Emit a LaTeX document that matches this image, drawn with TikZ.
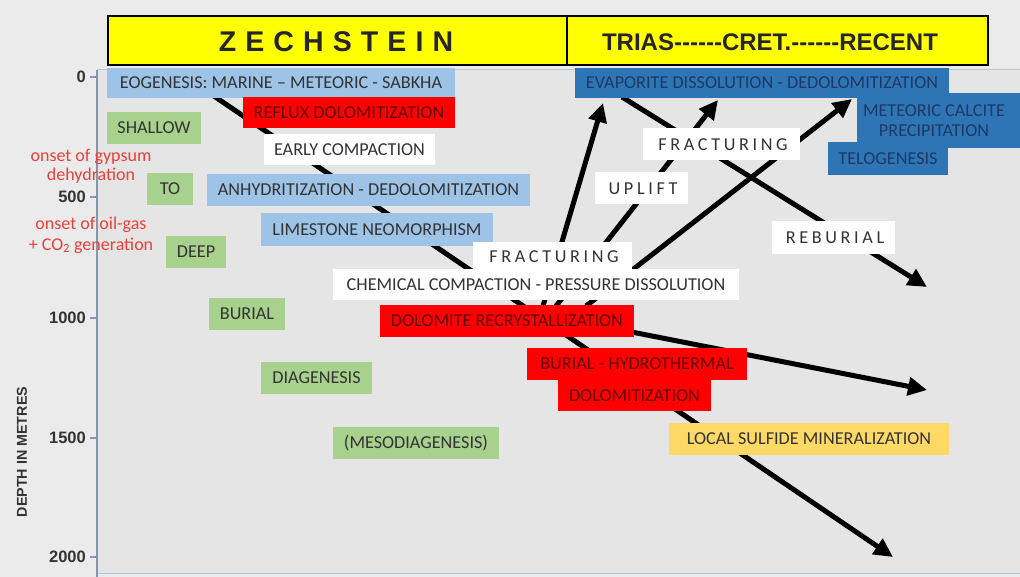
\documentclass[tikz,border=0pt]{standalone}
\usepackage{fontspec}
\setmainfont{Carlito}
\newfontfamily\hdrfont{Liberation Sans}
\newfontfamily\zechfont{Liberation Sans}[LetterSpace=32]
\newfontfamily\spacedfont{Carlito}[LetterSpace=20]
\usetikzlibrary{arrows.meta}
\definecolor{bgout}{HTML}{EBEBEB}
\definecolor{bgin}{HTML}{E5E5E5}
\definecolor{axisblue}{HTML}{B4C7DC}
\definecolor{axisgray}{HTML}{8496B0}
\definecolor{hdryellow}{HTML}{FFFF00}
\definecolor{lblue}{HTML}{9DC3E6}
\definecolor{dblue}{HTML}{2E75B6}
\definecolor{navytxt}{HTML}{1F3864}
\definecolor{lgreen}{HTML}{A9D18E}
\definecolor{boxred}{HTML}{FF0000}
\definecolor{redtxt}{HTML}{5E0606}
\definecolor{sulf}{HTML}{FFD966}
\definecolor{txt}{HTML}{333333}
\definecolor{onset}{HTML}{E8403A}
\newcommand\bxf{\fontsize{18.2}{20}\selectfont}
\begin{document}
\begin{tikzpicture}[x=1pt,y=-1pt,
  bx/.style={inner sep=0pt, font=\bxf, align=center, text=txt},
  lb/.style={bx, fill=lblue},
  db/.style={bx, fill=dblue, text=navytxt},
  gb/.style={bx, fill=lgreen},
  rb/.style={bx, fill=boxred, text=redtxt},
  wb/.style={bx, fill=white},
  sp/.style={inner sep=0pt, font=\spacedfont\fontsize{18.2}{20}\selectfont, text=txt},
  tick/.style={inner sep=0pt, anchor=east, font=\hdrfont\bfseries\fontsize{16.5}{18}\selectfont, text=txt},
  arr/.style={line width=5pt, -{Triangle[length=19pt,width=18pt]}},
  ln/.style={line width=5pt}
]
\useasboundingbox (0,0) rectangle (1020,577);
\fill[bgout] (0,0) rectangle (1020,577);
\fill[bgin] (97,70) rectangle (1020,573);
\draw[axisblue, line width=1pt] (97,70) -- (1020,70);
\draw[axisblue, line width=1pt] (97,573) -- (1020,573);
\draw[axisgray, line width=1.5pt] (97,70) -- (97,577);
\foreach \yy in {77,197,318,438,557} \draw[axisgray, line width=1.2pt] (90,\yy) -- (97,\yy);
\node[tick] (d0) at (86,77) {0};
\node[tick] (d500) at (86,197) {500};
\node[tick] (d1000) at (86,318) {1000};
\node[tick] (d1500) at (86,438) {1500};
\node[tick] (d2000) at (86,557) {2000};
\node[inner sep=0pt, rotate=90, font=\hdrfont\bfseries\fontsize{14.3}{16}\selectfont, text=txt] (ylab) at (22,452) {DEPTH IN METRES};

% header
\node[draw=black, line width=1.5pt, fill=hdryellow, minimum width=459pt, minimum height=49pt, inner sep=0pt] (zh) at (337.5,40.5) {};
\node[draw=black, line width=1.5pt, fill=hdryellow, minimum width=421pt, minimum height=49pt, inner sep=0pt] (th) at (777.5,40.5) {};
\node[inner sep=0pt, font=\zechfont\bfseries\fontsize{28.5}{30}\selectfont, text=black!85] (zt) at (336,42) {ZECHSTEIN};
\node[inner sep=0pt, font=\hdrfont\bfseries\fontsize{24}{26}\selectfont, text=black!85] (tt) at (770,42) {TRIAS------CRET.------RECENT};

% onset texts
\node[inner sep=0pt, font=\fontsize{18}{19.5}\selectfont, text=onset, align=center] (gyp) at (91,166.5) {onset of gypsum\\dehydration};
\node[inner sep=0pt, font=\fontsize{18}{21}\selectfont, text=onset, align=center] (oil) at (91,235) {onset of oil-gas\\+ CO\textsubscript{2} generation};

% connector coordinates
\coordinate (m0) at (205,90);
\coordinate (mE) at (893,557);
\coordinate (h1) at (543,306);
\coordinate (t1) at (603,103);
\coordinate (h2) at (556,306);
\coordinate (t2) at (718,100);
\coordinate (h3) at (586,306);
\coordinate (t3) at (852,99);
\coordinate (h4) at (545,315);
\coordinate (t4) at (927,390);
\coordinate (r0) at (622,97);
\coordinate (t5) at (927,287);

\draw[arr] (m0) -- (mE);
\draw[arr] (h1) -- (t1);
\draw[arr] (h2) -- (t2);
\draw[arr] (h3) -- (t3);
\draw[arr] (h4) -- (t4);
\draw[arr] (r0) -- (t5);

% boxes
\node[lb, minimum width=348pt, minimum height=30pt] (eog) at (281,83) {EOGENESIS: MARINE -- METEORIC - SABKHA};
\node[rb, minimum width=212pt, minimum height=31pt] (reflux) at (349,112.5) {REFLUX DOLOMITIZATION};
\node[gb, minimum width=94pt, minimum height=32pt] (shallow) at (154,128) {SHALLOW};
\node[wb, minimum width=171pt, minimum height=31pt] (early) at (349.5,149.5) {EARLY COMPACTION};
\node[gb, minimum width=46pt, minimum height=32pt] (to) at (170,189) {TO};
\node[lb, minimum width=323pt, minimum height=32pt] (anhy) at (368.5,190) {ANHYDRITIZATION - DEDOLOMITIZATION};
\node[lb, minimum width=232pt, minimum height=33pt] (lime) at (377,229.5) {LIMESTONE NEOMORPHISM};
\node[gb, minimum width=60pt, minimum height=32pt] (deep) at (196,252) {DEEP};
\node[wb, minimum width=159pt, minimum height=28pt] (frac2) at (552.5,256) {};
\node[sp] (frac2t) at (554,257) {FRACTURING};
\node[wb, minimum width=406pt, minimum height=31pt] (chem) at (536,284.5) {CHEMICAL COMPACTION - PRESSURE DISSOLUTION};
\node[gb, minimum width=76pt, minimum height=32pt] (burial) at (247,314) {BURIAL};
\node[rb, minimum width=254pt, minimum height=32pt] (dolrec) at (507,321) {DOLOMITE RECRYSTALLIZATION};
\node[gb, minimum width=111pt, minimum height=32pt] (diag) at (316.5,378) {DIAGENESIS};
\node[rb, minimum width=220pt, minimum height=32pt] (bht) at (637,364) {BURIAL - HYDROTHERMAL};
\node[rb, minimum width=153pt, minimum height=31pt] (dolo) at (634.5,395.5) {DOLOMITIZATION};
\node[gb, minimum width=166pt, minimum height=32pt] (meso) at (416,443) {(MESODIAGENESIS)};
\node[bx, fill=sulf, minimum width=280pt, minimum height=32pt] (sulfide) at (809,439) {LOCAL SULFIDE MINERALIZATION};
\node[db, minimum width=163pt, minimum height=55pt] (meteor) at (938.5,120.5) {};
\node[db, anchor=center] (meteort) at (934,121) {METEORIC CALCITE\\PRECIPITATION};
\node[db, minimum width=374pt, minimum height=30pt] (evap) at (762,83) {EVAPORITE DISSOLUTION - DEDOLOMITIZATION};
\node[db, minimum width=120pt, minimum height=33pt] (telo) at (888,158.5) {TELOGENESIS};
\node[wb, minimum width=157pt, minimum height=32pt] (frac1) at (721.5,144) {};
\node[sp] (frac1t) at (723,145) {FRACTURING};
\node[wb, minimum width=93pt, minimum height=32pt] (uplift) at (641.5,188) {};
\node[sp] (upliftt) at (643,189) {UPLIFT};
\node[wb, minimum width=123pt, minimum height=33pt] (rebur) at (833.5,237.5) {};
\node[sp] (reburt) at (835,238) {REBURIAL};
\end{tikzpicture}
\end{document}
